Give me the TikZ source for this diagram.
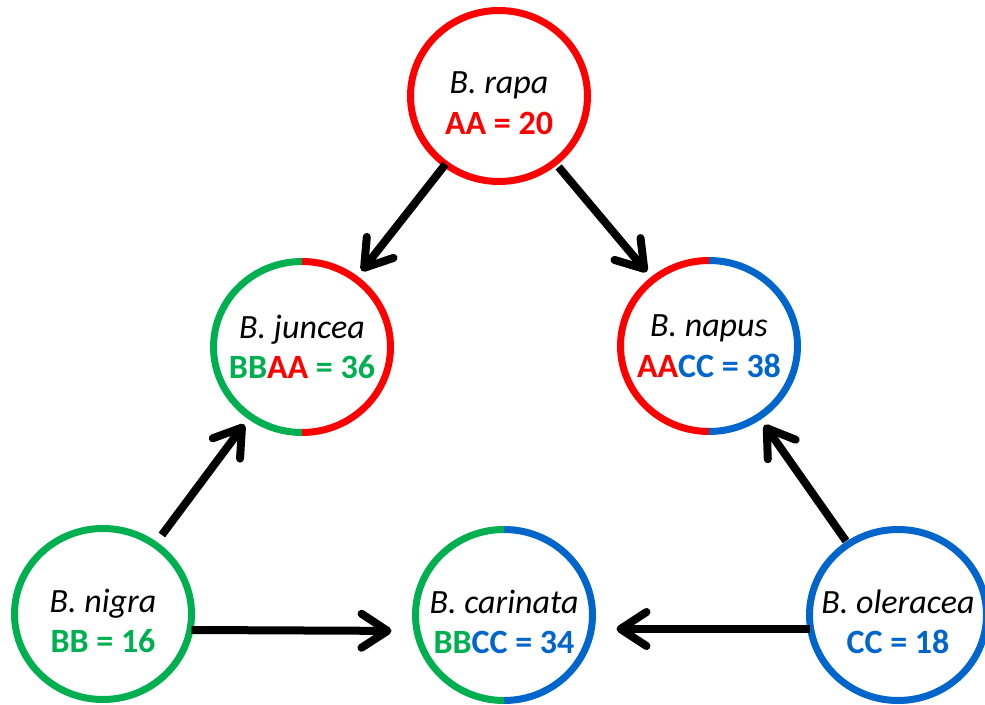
\documentclass[tikz,border=0pt]{standalone}
\usepackage{fontspec}
\setmainfont{Carlito}
\usepackage{tikz}
\usetikzlibrary{shapes.geometric,arrows.meta}
\definecolor{grn}{RGB}{0,176,80}
\definecolor{blu}{RGB}{0,102,204}
\definecolor{rd}{RGB}{255,0,0}
\tikzset{
  spec/.style={ellipse,minimum width=177pt,minimum height=171pt,inner sep=0pt,outer sep=0pt,line width=7pt},
  ring/.style={line width=7pt},
  lbl/.style={align=center,font=\fontsize{34}{40.5}\selectfont},
  arr/.style={line width=8pt,-{Straight Barb[round,length=26pt,width=34pt]}},
}
\begin{document}
\begin{tikzpicture}[x=1pt,y=1pt]
\useasboundingbox (0,0) rectangle (985,704);
% species rings
\node[spec,draw=rd] (rapa) at (499,608) {};
\node[spec] (juncea) at (302,357) {};
\node[spec] (napus) at (709,358) {};
\node[spec,draw=grn] (nigra) at (103,90) {};
\node[spec] (carinata) at (504,89) {};
\node[spec,draw=blu] (oleracea) at (898,89) {};
\draw[ring,grn] (juncea.north) arc[start angle=90,end angle=270,x radius=88.5pt,y radius=85.5pt];
\draw[ring,rd] (juncea.south) arc[start angle=-90,end angle=90,x radius=88.5pt,y radius=85.5pt];
\draw[ring,rd] (napus.north) arc[start angle=90,end angle=270,x radius=88.5pt,y radius=85.5pt];
\draw[ring,blu] (napus.south) arc[start angle=-90,end angle=90,x radius=88.5pt,y radius=85.5pt];
\draw[ring,grn] (carinata.north) arc[start angle=90,end angle=270,x radius=88.5pt,y radius=85.5pt];
\draw[ring,blu] (carinata.south) arc[start angle=-90,end angle=90,x radius=88.5pt,y radius=85.5pt];
% names and genomes
\node[lbl,yshift=-7pt] (rapa-txt) at (rapa) {\textit{B. rapa}\\\textbf{\textcolor{rd}{AA = 20}}};
\node[lbl] (juncea-txt) at (juncea) {\textit{B. juncea}\\\textbf{\textcolor{grn}{BB}\textcolor{rd}{AA}\textcolor{grn}{{} = 36}}};
\node[lbl] (napus-txt) at (napus) {\textit{B. napus}\\\textbf{\textcolor{rd}{AA}\textcolor{blu}{CC = 38}}};
\node[lbl,yshift=-7pt] (nigra-txt) at (nigra) {\textit{B. nigra}\\\textbf{\textcolor{grn}{BB = 16}}};
\node[lbl,yshift=-7pt] (carinata-txt) at (carinata) {\textit{B. carinata}\\\textbf{\textcolor{grn}{BB}\textcolor{blu}{CC = 34}}};
\node[lbl,yshift=-7pt] (oleracea-txt) at (oleracea) {\textit{B. oleracea}\\\textbf{\textcolor{blu}{CC = 18}}};
% crosses
\draw[arr,shorten >=10pt] (rapa) -- (juncea);
\draw[arr,shorten <=6pt,shorten >=10pt] (rapa) -- (napus);
\draw[arr,shorten <=12pt,shorten >=10pt] (nigra) -- (juncea);
\draw[arr,shorten <=4pt,shorten >=10pt] (oleracea) -- (napus);
\draw[arr,shorten >=24pt] ([yshift=-16pt]nigra.east) -- ([yshift=-16pt]carinata.west);
\draw[arr,shorten >=24pt] ([yshift=-14pt]oleracea.west) -- ([yshift=-14pt]carinata.east);
\end{tikzpicture}
\end{document}
